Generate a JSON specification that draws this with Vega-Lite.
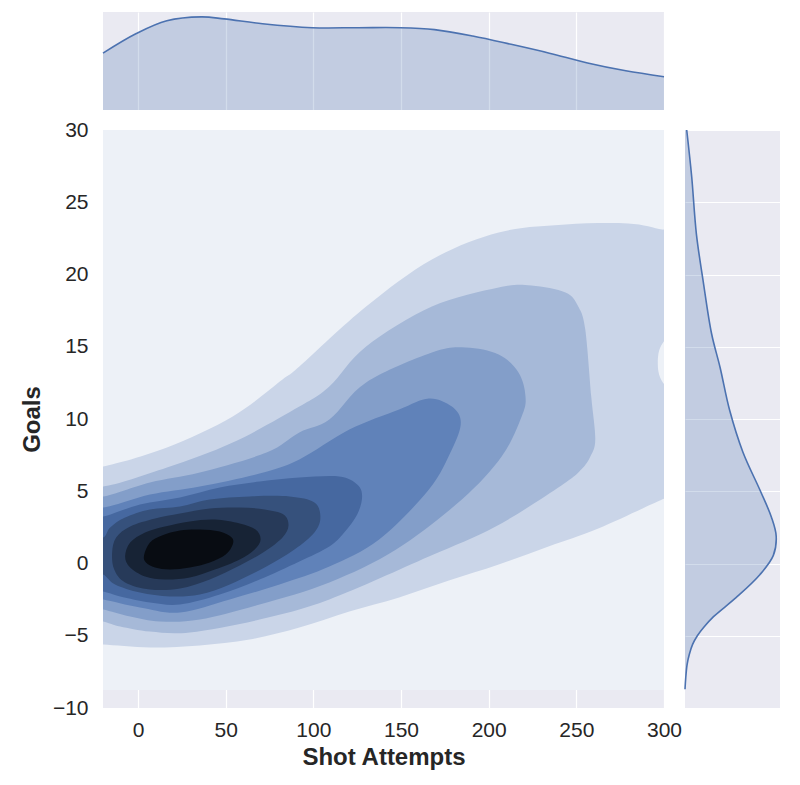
{
  "$schema": "https://vega.github.io/schema/vega-lite/v6.json",
  "background": "white",
  "padding": {"left": 20, "top": 12, "right": 5, "bottom": 5},
  "bounds": "flush",
  "spacing": 20,
  "config": {
    "view": {"fill": "#EAEAF2", "stroke": null},
    "axis": {
      "domain": false,
      "ticks": false,
      "tickSize": 0,
      "gridColor": "white",
      "gridWidth": 1.2,
      "labelFont": "Liberation Sans",
      "labelFontSize": 21,
      "labelColor": "#262626",
      "labelFlush": false,
      "labelOverlap": false,
      "titleFont": "Liberation Sans",
      "titleFontSize": 24,
      "titleFontWeight": "bold",
      "titleColor": "#262626"
    }
  },
  "datasets": {
    "margx": [
      {"shots": -20, "d": 0.58}, {"shots": -1, "d": 0.78}, {"shots": 16.4, "d": 0.91},
      {"shots": 36.1, "d": 0.95}, {"shots": 49.1, "d": 0.93}, {"shots": 71, "d": 0.88},
      {"shots": 99.3, "d": 0.84}, {"shots": 125.5, "d": 0.84}, {"shots": 149.5, "d": 0.84},
      {"shots": 169.1, "d": 0.82}, {"shots": 190.9, "d": 0.755}, {"shots": 212.8, "d": 0.67},
      {"shots": 234.6, "d": 0.58}, {"shots": 256.4, "d": 0.48}, {"shots": 278.2, "d": 0.4},
      {"shots": 300, "d": 0.34}
    ],
    "margy": [
      {"goals": 30, "d": 0.018}, {"goals": 26.8, "d": 0.07}, {"goals": 22.8, "d": 0.12},
      {"goals": 19.6, "d": 0.19}, {"goals": 15.9, "d": 0.28}, {"goals": 13.55, "d": 0.37},
      {"goals": 10.6, "d": 0.47}, {"goals": 7.7, "d": 0.61}, {"goals": 5.07, "d": 0.79},
      {"goals": 3.2, "d": 0.91}, {"goals": 1.89, "d": 0.96}, {"goals": 0.56, "d": 0.93},
      {"goals": -0.76, "d": 0.79}, {"goals": -2.35, "d": 0.54}, {"goals": -3.68, "d": 0.3},
      {"goals": -4.4, "d": 0.2}, {"goals": -5.0, "d": 0.13}, {"goals": -5.6, "d": 0.08},
      {"goals": -6.3, "d": 0.045}, {"goals": -7.0, "d": 0.022}, {"goals": -7.9, "d": 0.008},
      {"goals": -8.7, "d": 0.0}
    ],
    "lowest": [
      {"x": -20, "x2": 300, "y": -8.75, "y2": 30}
    ],
    "contours": [
      {"level": 1, "i": 0, "x": -27.3, "y": 6.9},
      {"level": 1, "i": 1, "x": -19.9, "y": 6.71},
      {"level": 1, "i": 2, "x": 16.5, "y": 8.03},
      {"level": 1, "i": 3, "x": 54.0, "y": 10.17},
      {"level": 1, "i": 4, "x": 82.4, "y": 12.73},
      {"level": 1, "i": 5, "x": 92.0, "y": 13.63},
      {"level": 1, "i": 6, "x": 130.1, "y": 17.78},
      {"level": 1, "i": 7, "x": 167.6, "y": 21.04},
      {"level": 1, "i": 8, "x": 205.7, "y": 22.91},
      {"level": 1, "i": 9, "x": 243.8, "y": 23.46},
      {"level": 1, "i": 10, "x": 279.5, "y": 23.53},
      {"level": 1, "i": 11, "x": 298.9, "y": 23.11},
      {"level": 1, "i": 12, "x": 306, "y": 23.0},
      {"level": 1, "i": 13, "x": 306, "y": 16.2},
      {"level": 1, "i": 14, "x": 299.5, "y": 15.3},
      {"level": 1, "i": 15, "x": 296.8, "y": 14.5},
      {"level": 1, "i": 16, "x": 296.8, "y": 13.3},
      {"level": 1, "i": 17, "x": 299.5, "y": 12.5},
      {"level": 1, "i": 18, "x": 306, "y": 11.6},
      {"level": 1, "i": 19, "x": 306, "y": 4.7},
      {"level": 1, "i": 20, "x": 298.9, "y": 4.43},
      {"level": 1, "i": 21, "x": 262.5, "y": 2.42},
      {"level": 1, "i": 22, "x": 234.1, "y": 1.18},
      {"level": 1, "i": 23, "x": 205.7, "y": -0.07},
      {"level": 1, "i": 24, "x": 177.3, "y": -1.18},
      {"level": 1, "i": 25, "x": 148.9, "y": -2.35},
      {"level": 1, "i": 26, "x": 120.5, "y": -3.32},
      {"level": 1, "i": 27, "x": 92.0, "y": -4.43},
      {"level": 1, "i": 28, "x": 63.6, "y": -5.26},
      {"level": 1, "i": 29, "x": 35.2, "y": -5.67},
      {"level": 1, "i": 30, "x": 6.8, "y": -5.81},
      {"level": 1, "i": 31, "x": -19.9, "y": -5.61},
      {"level": 1, "i": 32, "x": -27.3, "y": -5.6},

      {"level": 2, "i": 0, "x": -27.3, "y": 6.1},
      {"level": 2, "i": 1, "x": -19.9, "y": 5.33},
      {"level": 2, "i": 2, "x": 16.5, "y": 6.64},
      {"level": 2, "i": 3, "x": 54.0, "y": 8.37},
      {"level": 2, "i": 4, "x": 92.0, "y": 10.86},
      {"level": 2, "i": 5, "x": 109.1, "y": 12.25},
      {"level": 2, "i": 6, "x": 130.1, "y": 15.02},
      {"level": 2, "i": 7, "x": 167.6, "y": 17.78},
      {"level": 2, "i": 8, "x": 205.7, "y": 19.1},
      {"level": 2, "i": 9, "x": 224.4, "y": 19.24},
      {"level": 2, "i": 10, "x": 243.8, "y": 18.75},
      {"level": 2, "i": 11, "x": 251.1, "y": 17.78},
      {"level": 2, "i": 12, "x": 255.1, "y": 16.19},
      {"level": 2, "i": 13, "x": 258.5, "y": 11.56},
      {"level": 2, "i": 14, "x": 260.8, "y": 8.6},
      {"level": 2, "i": 15, "x": 258.0, "y": 7.4},
      {"level": 2, "i": 16, "x": 252.8, "y": 6.5},
      {"level": 2, "i": 17, "x": 241.5, "y": 5.4},
      {"level": 2, "i": 18, "x": 204.0, "y": 2.56},
      {"level": 2, "i": 19, "x": 165.9, "y": 0.48},
      {"level": 2, "i": 20, "x": 109.1, "y": -2.49},
      {"level": 2, "i": 21, "x": 69.3, "y": -3.88},
      {"level": 2, "i": 22, "x": 29.5, "y": -4.77},
      {"level": 2, "i": 23, "x": 6.8, "y": -4.71},
      {"level": 2, "i": 24, "x": -10.2, "y": -4.36},
      {"level": 2, "i": 25, "x": -19.9, "y": -4.01},
      {"level": 2, "i": 26, "x": -27.3, "y": -3.9},

      {"level": 3, "i": 0, "x": -27.3, "y": 5.0},
      {"level": 3, "i": 1, "x": -19.9, "y": 4.64},
      {"level": 3, "i": 2, "x": 6.8, "y": 5.61},
      {"level": 3, "i": 3, "x": 35.2, "y": 6.3},
      {"level": 3, "i": 4, "x": 73.3, "y": 7.68},
      {"level": 3, "i": 5, "x": 92.0, "y": 9.07},
      {"level": 3, "i": 6, "x": 109.1, "y": 9.96},
      {"level": 3, "i": 7, "x": 130.1, "y": 12.53},
      {"level": 3, "i": 8, "x": 167.6, "y": 14.6},
      {"level": 3, "i": 9, "x": 186.9, "y": 14.95},
      {"level": 3, "i": 10, "x": 205.7, "y": 14.46},
      {"level": 3, "i": 11, "x": 217.0, "y": 13.22},
      {"level": 3, "i": 12, "x": 221.0, "y": 11.56},
      {"level": 3, "i": 13, "x": 218.8, "y": 10.17},
      {"level": 3, "i": 14, "x": 207.4, "y": 7.4},
      {"level": 3, "i": 15, "x": 184.7, "y": 4.43},
      {"level": 3, "i": 16, "x": 147.2, "y": 0.97},
      {"level": 3, "i": 17, "x": 109.1, "y": -1.31},
      {"level": 3, "i": 18, "x": 69.3, "y": -2.84},
      {"level": 3, "i": 19, "x": 35.2, "y": -3.88},
      {"level": 3, "i": 20, "x": 12.5, "y": -4.01},
      {"level": 3, "i": 21, "x": -4.5, "y": -3.67},
      {"level": 3, "i": 22, "x": -19.9, "y": -3.18},
      {"level": 3, "i": 23, "x": -27.3, "y": -3.1},

      {"level": 4, "i": 0, "x": -27.3, "y": 4.5},
      {"level": 4, "i": 1, "x": -19.9, "y": 3.88},
      {"level": 4, "i": 2, "x": 6.8, "y": 4.77},
      {"level": 4, "i": 3, "x": 35.2, "y": 5.33},
      {"level": 4, "i": 4, "x": 69.3, "y": 6.23},
      {"level": 4, "i": 5, "x": 92.0, "y": 7.2},
      {"level": 4, "i": 6, "x": 120.5, "y": 9.27},
      {"level": 4, "i": 7, "x": 148.9, "y": 10.66},
      {"level": 4, "i": 8, "x": 165.9, "y": 11.42},
      {"level": 4, "i": 9, "x": 179.0, "y": 10.86},
      {"level": 4, "i": 10, "x": 184.1, "y": 9.76},
      {"level": 4, "i": 11, "x": 179.0, "y": 7.89},
      {"level": 4, "i": 12, "x": 165.9, "y": 5.12},
      {"level": 4, "i": 13, "x": 137.5, "y": 1.66},
      {"level": 4, "i": 14, "x": 109.1, "y": -0.21},
      {"level": 4, "i": 15, "x": 80.7, "y": -1.45},
      {"level": 4, "i": 16, "x": 52.3, "y": -2.49},
      {"level": 4, "i": 17, "x": 23.9, "y": -3.39},
      {"level": 4, "i": 18, "x": 1.1, "y": -3.04},
      {"level": 4, "i": 19, "x": -19.9, "y": -2.49},
      {"level": 4, "i": 20, "x": -27.3, "y": -2.4},

      {"level": 5, "i": 0, "x": -27.3, "y": 3.4},
      {"level": 5, "i": 1, "x": -19.9, "y": 3.25},
      {"level": 5, "i": 2, "x": 1.1, "y": 4.08},
      {"level": 5, "i": 3, "x": 23.9, "y": 4.57},
      {"level": 5, "i": 4, "x": 46.6, "y": 5.26},
      {"level": 5, "i": 5, "x": 69.3, "y": 5.67},
      {"level": 5, "i": 6, "x": 92.0, "y": 5.95},
      {"level": 5, "i": 7, "x": 114.8, "y": 6.02},
      {"level": 5, "i": 8, "x": 125.0, "y": 5.47},
      {"level": 5, "i": 9, "x": 127.8, "y": 4.64},
      {"level": 5, "i": 10, "x": 125.0, "y": 3.39},
      {"level": 5, "i": 11, "x": 117.6, "y": 2.15},
      {"level": 5, "i": 12, "x": 109.1, "y": 1.18},
      {"level": 5, "i": 13, "x": 92.0, "y": 0.14},
      {"level": 5, "i": 14, "x": 69.3, "y": -1.11},
      {"level": 5, "i": 15, "x": 46.6, "y": -2.15},
      {"level": 5, "i": 16, "x": 23.9, "y": -2.84},
      {"level": 5, "i": 17, "x": 6.8, "y": -2.7},
      {"level": 5, "i": 18, "x": -10.2, "y": -2.28},
      {"level": 5, "i": 19, "x": -19.9, "y": -1.94},
      {"level": 5, "i": 20, "x": -27.3, "y": -1.9},

      {"level": 6, "i": 0, "x": -27.3, "y": 2.2},
      {"level": 6, "i": 1, "x": -19.9, "y": 1.8},
      {"level": 6, "i": 2, "x": -15.9, "y": 2.49},
      {"level": 6, "i": 3, "x": -7.4, "y": 3.18},
      {"level": 6, "i": 4, "x": 6.8, "y": 3.74},
      {"level": 6, "i": 5, "x": 23.9, "y": 3.95},
      {"level": 6, "i": 6, "x": 40.9, "y": 4.43},
      {"level": 6, "i": 7, "x": 63.6, "y": 4.64},
      {"level": 6, "i": 8, "x": 86.4, "y": 4.64},
      {"level": 6, "i": 9, "x": 100.6, "y": 4.22},
      {"level": 6, "i": 10, "x": 104.0, "y": 3.18},
      {"level": 6, "i": 11, "x": 100.6, "y": 2.15},
      {"level": 6, "i": 12, "x": 89.2, "y": 0.97},
      {"level": 6, "i": 13, "x": 72.2, "y": -0.28},
      {"level": 6, "i": 14, "x": 52.3, "y": -1.45},
      {"level": 6, "i": 15, "x": 35.2, "y": -2.15},
      {"level": 6, "i": 16, "x": 18.2, "y": -2.28},
      {"level": 6, "i": 17, "x": 1.1, "y": -2.01},
      {"level": 6, "i": 18, "x": -13.1, "y": -1.45},
      {"level": 6, "i": 19, "x": -19.9, "y": -0.76},
      {"level": 6, "i": 20, "x": -27.3, "y": -0.7},

      {"level": 7, "i": 0, "x": -14.8, "y": 0.76},
      {"level": 7, "i": 1, "x": -12.5, "y": 1.8},
      {"level": 7, "i": 2, "x": -4.5, "y": 2.56},
      {"level": 7, "i": 3, "x": 9.7, "y": 3.11},
      {"level": 7, "i": 4, "x": 23.9, "y": 3.46},
      {"level": 7, "i": 5, "x": 40.9, "y": 3.81},
      {"level": 7, "i": 6, "x": 58.0, "y": 3.88},
      {"level": 7, "i": 7, "x": 72.2, "y": 3.74},
      {"level": 7, "i": 8, "x": 83.0, "y": 3.39},
      {"level": 7, "i": 9, "x": 85.8, "y": 2.63},
      {"level": 7, "i": 10, "x": 82.4, "y": 1.8},
      {"level": 7, "i": 11, "x": 72.2, "y": 0.83},
      {"level": 7, "i": 12, "x": 58.0, "y": -0.14},
      {"level": 7, "i": 13, "x": 40.9, "y": -1.11},
      {"level": 7, "i": 14, "x": 23.9, "y": -1.73},
      {"level": 7, "i": 15, "x": 6.8, "y": -1.8},
      {"level": 7, "i": 16, "x": -7.4, "y": -1.31},
      {"level": 7, "i": 17, "x": -13.6, "y": -0.42},

      {"level": 8, "i": 0, "x": -7.4, "y": 0.48},
      {"level": 8, "i": 1, "x": -4.5, "y": 1.45},
      {"level": 8, "i": 2, "x": 4.0, "y": 2.15},
      {"level": 8, "i": 3, "x": 15.3, "y": 2.56},
      {"level": 8, "i": 4, "x": 29.5, "y": 2.91},
      {"level": 8, "i": 5, "x": 43.8, "y": 3.04},
      {"level": 8, "i": 6, "x": 58.0, "y": 2.77},
      {"level": 8, "i": 7, "x": 67.0, "y": 2.35},
      {"level": 8, "i": 8, "x": 69.9, "y": 1.66},
      {"level": 8, "i": 9, "x": 66.5, "y": 0.97},
      {"level": 8, "i": 10, "x": 58.0, "y": 0.28},
      {"level": 8, "i": 11, "x": 43.8, "y": -0.42},
      {"level": 8, "i": 12, "x": 29.5, "y": -0.97},
      {"level": 8, "i": 13, "x": 15.3, "y": -1.11},
      {"level": 8, "i": 14, "x": 4.0, "y": -0.9},
      {"level": 8, "i": 15, "x": -4.5, "y": -0.28},

      {"level": 9, "i": 0, "x": 3.4, "y": 0.55},
      {"level": 9, "i": 1, "x": 6.8, "y": 1.45},
      {"level": 9, "i": 2, "x": 13.6, "y": 1.94},
      {"level": 9, "i": 3, "x": 23.9, "y": 2.28},
      {"level": 9, "i": 4, "x": 35.2, "y": 2.35},
      {"level": 9, "i": 5, "x": 46.6, "y": 2.21},
      {"level": 9, "i": 6, "x": 53.4, "y": 1.8},
      {"level": 9, "i": 7, "x": 54.0, "y": 1.31},
      {"level": 9, "i": 8, "x": 50.0, "y": 0.62},
      {"level": 9, "i": 9, "x": 40.9, "y": 0.07},
      {"level": 9, "i": 10, "x": 29.5, "y": -0.28},
      {"level": 9, "i": 11, "x": 18.2, "y": -0.42},
      {"level": 9, "i": 12, "x": 9.7, "y": -0.28},
      {"level": 9, "i": 13, "x": 4.5, "y": 0.07}
    ]
  },
  "vconcat": [
    {
      "width": 561,
      "height": 98,
      "data": {"name": "margx"},
      "encoding": {
        "x": {
          "field": "shots",
          "type": "quantitative",
          "scale": {"domain": [-20, 300], "nice": false, "zero": false},
          "axis": {"values": [0, 50, 100, 150, 200, 250, 300], "labels": false, "title": null, "grid": true}
        },
        "y": {
          "field": "d",
          "type": "quantitative",
          "scale": {"domain": [0, 1], "nice": false},
          "axis": null
        }
      },
      "layer": [
        {"mark": {"type": "area", "interpolate": "catmull-rom", "color": "#4C72B0", "opacity": 0.25}},
        {"mark": {"type": "line", "interpolate": "catmull-rom", "color": "#4C72B0", "strokeWidth": 1.6}}
      ]
    },
    {
      "spacing": 21,
      "bounds": "flush",
      "hconcat": [
        {
          "width": 561,
          "height": 578,
          "layer": [
            {
              "data": {"name": "lowest"},
              "mark": {"type": "rect", "color": "#EDF1F7"},
              "encoding": {
                "x": {
                  "field": "x",
                  "type": "quantitative",
                  "scale": {"domain": [-20, 300], "nice": false, "zero": false},
                  "axis": {
                    "values": [0, 50, 100, 150, 200, 250, 300],
                    "title": "Shot Attempts",
                    "labelPadding": 11,
                    "titlePadding": 5,
                    "grid": true
                  }
                },
                "x2": {"field": "x2"},
                "y": {
                  "field": "y",
                  "type": "quantitative",
                  "scale": {"domain": [-10, 30], "nice": false, "zero": false},
                  "axis": {
                    "values": [-10, -5, 0, 5, 10, 15, 20, 25, 30],
                    "title": "Goals",
                    "labelPadding": 15,
                    "titlePadding": 8,
                    "grid": true
                  }
                },
                "y2": {"field": "y2"}
              }
            },
            {
              "data": {"name": "contours"},
              "mark": {"type": "line", "filled": true, "interpolate": "cardinal-closed", "clip": true, "strokeWidth": 0},
              "encoding": {
                "x": {"field": "x", "type": "quantitative"},
                "y": {"field": "y", "type": "quantitative"},
                "order": {"field": "i", "type": "quantitative"},
                "color": {
                  "field": "level",
                  "type": "ordinal",
                  "scale": {
                    "domain": [1, 2, 3, 4, 5, 6, 7, 8, 9],
                    "range": ["#CAD5E8", "#A6B9D8", "#839EC9", "#6082B9", "#4668A0", "#36517C", "#273A59", "#172335", "#080C12"]
                  },
                  "legend": null
                }
              }
            }
          ]
        },
        {
          "width": 95,
          "height": 578,
          "data": {"name": "margy"},
          "encoding": {
            "y": {
              "field": "goals",
              "type": "quantitative",
              "scale": {"domain": [-10, 30], "nice": false, "zero": false},
              "axis": {"values": [-10, -5, 0, 5, 10, 15, 20, 25, 30], "labels": false, "title": null, "grid": true}
            },
            "x": {
              "field": "d",
              "type": "quantitative",
              "scale": {"domain": [0, 1], "nice": false},
              "axis": null
            }
          },
          "layer": [
            {"mark": {"type": "area", "orient": "horizontal", "interpolate": "catmull-rom", "color": "#4C72B0", "opacity": 0.25}},
            {"mark": {"type": "line", "orient": "horizontal", "interpolate": "catmull-rom", "color": "#4C72B0", "strokeWidth": 1.6}}
          ]
        }
      ]
    }
  ]
}
